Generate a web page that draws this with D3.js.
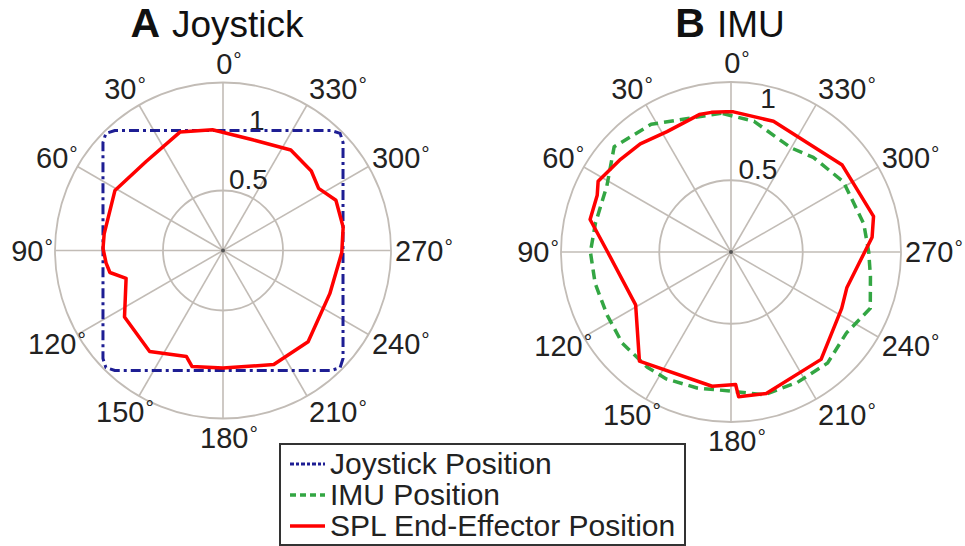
<!DOCTYPE html>
<html>
<head>
<meta charset="utf-8">
<script src="https://cdn.jsdelivr.net/npm/d3@7"></script>
<style>
  body { margin: 0; background: #fff; }
  svg { display: block; font-family: "Liberation Sans", Arial, sans-serif; }
</style>
</head>
<body>
<svg id="chart" width="965" height="546"></svg>
<script>
// angle spokes (degrees, counter-clockwise from the top) and ring labels
const angleTicks = [0, 30, 60, 90, 120, 150, 180, 210, 240, 270, 300, 330];
const gridRings = [0.5];
const ringLabels = [0.5, 1];

// A: joystick command (square) and end-effector response
const joyAngles = [0, 42, 45, 48, 90, 132, 135, 138, 180, 222, 225, 228, 270, 312, 315, 318];
const joyRadii  = [1, 1.346, 1.38, 1.346, 1, 1.346, 1.38, 1.346, 1, 1.346, 1.38, 1.346, 1, 1.346, 1.38, 1.346];

const splAAngles = [5, 20, 41, 61, 82, 89, 96, 101, 106, 124, 144, 161, 165, 180, 204, 223, 248, 269, 281, 294, 303, 312, 326, 345];
const splARadii  = [1.01, 1.05, 0.98, 1.03, 1.0, 1.0, 0.98, 0.96, 0.84, 0.99, 1.04, 0.935, 1.0, 0.98, 1.04, 1.04, 0.96, 0.99, 1.02, 1.03, 0.95, 0.99, 1.01, 0.955];

// B: IMU command and end-effector response
const imuAngles = [4, 32, 48, 62, 78, 90, 103, 117, 130, 144, 153, 166, 180, 193, 207, 221, 235, 248, 260, 270, 282, 302, 319, 330, 350];
const imuRadii  = [0.97, 1.05, 1.096, 0.98, 0.966, 0.98, 0.972, 0.969, 0.989, 0.993, 0.993, 0.977, 0.97, 1.022, 1.02, 1.026, 0.983, 1.047, 0.987, 0.96, 0.946, 0.924, 0.874, 0.838, 0.925];

const splBAngles = [2, 8, 13, 28, 40, 50, 62, 67, 77, 90, 119, 140, 172, 182, 183, 194, 220, 243, 253, 276, 284, 308, 342, 359];
const splBRadii  = [0.978, 0.983, 0.983, 0.95, 0.984, 1.005, 1.049, 1.013, 1.008, 0.86, 0.76, 0.993, 0.945, 0.924, 1.01, 1.016, 0.977, 0.866, 0.845, 0.989, 1.024, 0.984, 0.958, 0.977];

const legendLabels = ['Joystick Position', 'IMU Position', 'SPL End-Effector Position'];

// line styles
const styles = {
  joy: { color: '#1e1e94', width: 3, dash: '10,4,3,4' },
  imu: { color: '#33a643', width: 3.5, dash: '10,6' },
  spl: { color: '#ff0000', width: 3.5, dash: null }
};

const zip = (as, rs) => as.map((a, i) => ({ a, r: rs[i] }));

const panels = [
  { letter: 'A', name: 'Joystick', cx: 223, cy: 250.5, R: 168, rMax: 1.4, titleDx: -6,
    series: [{ key: 'joy', pts: zip(joyAngles, joyRadii) }, { key: 'spl', pts: zip(splAAngles, splARadii) }] },
  { letter: 'B', name: 'IMU', cx: 731, cy: 252, R: 170, rMax: 1.185, titleDx: -1,
    series: [{ key: 'imu', pts: zip(imuAngles, imuRadii) }, { key: 'spl', pts: zip(splBAngles, splBRadii) }] }
];

const svg = d3.select('#chart');
const gridColor = '#c2bcb6';
const rad = d => d * Math.PI / 180;

panels.forEach(p => {
  const r = d3.scaleLinear().domain([0, p.rMax]).range([0, p.R]);
  const g = svg.append('g').attr('transform', `translate(${p.cx},${p.cy})`);

  // spokes
  g.selectAll('line.spoke').data(angleTicks).join('line')
    .attr('x1', 0).attr('y1', 0)
    .attr('x2', d => -p.R * Math.sin(rad(d)))
    .attr('y2', d => -p.R * Math.cos(rad(d)))
    .attr('stroke', gridColor).attr('stroke-width', 1.6);

  // rings + outer boundary
  g.selectAll('circle.ring').data(gridRings.concat([p.rMax])).join('circle')
    .attr('r', d => r(d))
    .attr('fill', 'none').attr('stroke', gridColor).attr('stroke-width', 1.8);

  g.append('circle').attr('r', 2).attr('fill', '#555');

  // ring labels (placed ~8 deg right of top)
  g.selectAll('text.ring').data(ringLabels).join('text')
    .attr('x', d => r(d) * Math.sin(rad(8)) + 17)
    .attr('y', d => -r(d) * Math.cos(rad(8)) - 2)
    .attr('text-anchor', 'middle')
    .attr('font-size', 28).attr('fill', '#222')
    .text(d => d);

  // angle labels, small raised degree sign
  const ang = g.selectAll('text.ang').data(angleTicks).join('text')
    .each(function (d) {
      const s = Math.sin(rad(d)), c = Math.cos(rad(d));
      const t = d3.select(this);
      if (d === 0 || d === 180) {
        t.attr('x', 6).attr('y', -c * (p.R + 19)).attr('text-anchor', 'middle');
      } else if (d > 180) {
        t.attr('x', (p.R + 4) * Math.abs(s)).attr('y', -c * (p.R + 18)).attr('text-anchor', 'start');
      } else {
        t.attr('x', -(p.R + 18) * s - 5).attr('y', -c * (p.R + 18)).attr('text-anchor', 'middle');
      }
    })
    .attr('dominant-baseline', 'central')
    .attr('font-size', 29).attr('fill', '#222');
  ang.append('tspan').text(d => d);
  ang.append('tspan').attr('font-size', 21).attr('dx', 1).attr('dy', -5).text('°');

  // data curves
  const line = d3.lineRadial()
    .angle(d => -rad(d.a))
    .radius(d => r(d.r))
    .curve(d3.curveLinearClosed);

  p.series.forEach(s => {
    const st = styles[s.key];
    g.append('path')
      .attr('d', line(s.pts))
      .attr('fill', 'none')
      .attr('stroke', st.color)
      .attr('stroke-width', st.width)
      .attr('stroke-dasharray', st.dash)
      .attr('stroke-linejoin', 'round');
  });

  // title
  const title = svg.append('text')
    .attr('x', p.cx + p.titleDx).attr('y', 37)
    .attr('text-anchor', 'middle').attr('fill', '#111');
  title.append('tspan').attr('font-weight', 'bold').attr('font-size', 41).text(p.letter);
  title.append('tspan').attr('font-size', 37).attr('dx', 12).text(p.name);
});

// legend
const lg = svg.append('g').attr('transform', 'translate(280,444)');
lg.append('rect').attr('width', 405).attr('height', 101)
  .attr('fill', '#fff').attr('stroke', '#333').attr('stroke-width', 2);
const legendKeys = ['joy', 'imu', 'spl'];
const rowY = d3.scalePoint().domain(legendKeys).range([20, 82]);
legendKeys.forEach((k, i) => {
  const st = styles[k];
  lg.append('line')
    .attr('x1', 10).attr('x2', 45)
    .attr('y1', rowY(k)).attr('y2', rowY(k))
    .attr('stroke', st.color).attr('stroke-width', st.width)
    .attr('stroke-dasharray', k === 'joy' ? '4,2,3,2' : (k === 'imu' ? '6,4' : null));
  lg.append('text')
    .attr('x', 50).attr('y', rowY(k) + 10)
    .attr('font-size', 30).attr('fill', '#222')
    .text(legendLabels[i]);
});
</script>
</body>
</html>
